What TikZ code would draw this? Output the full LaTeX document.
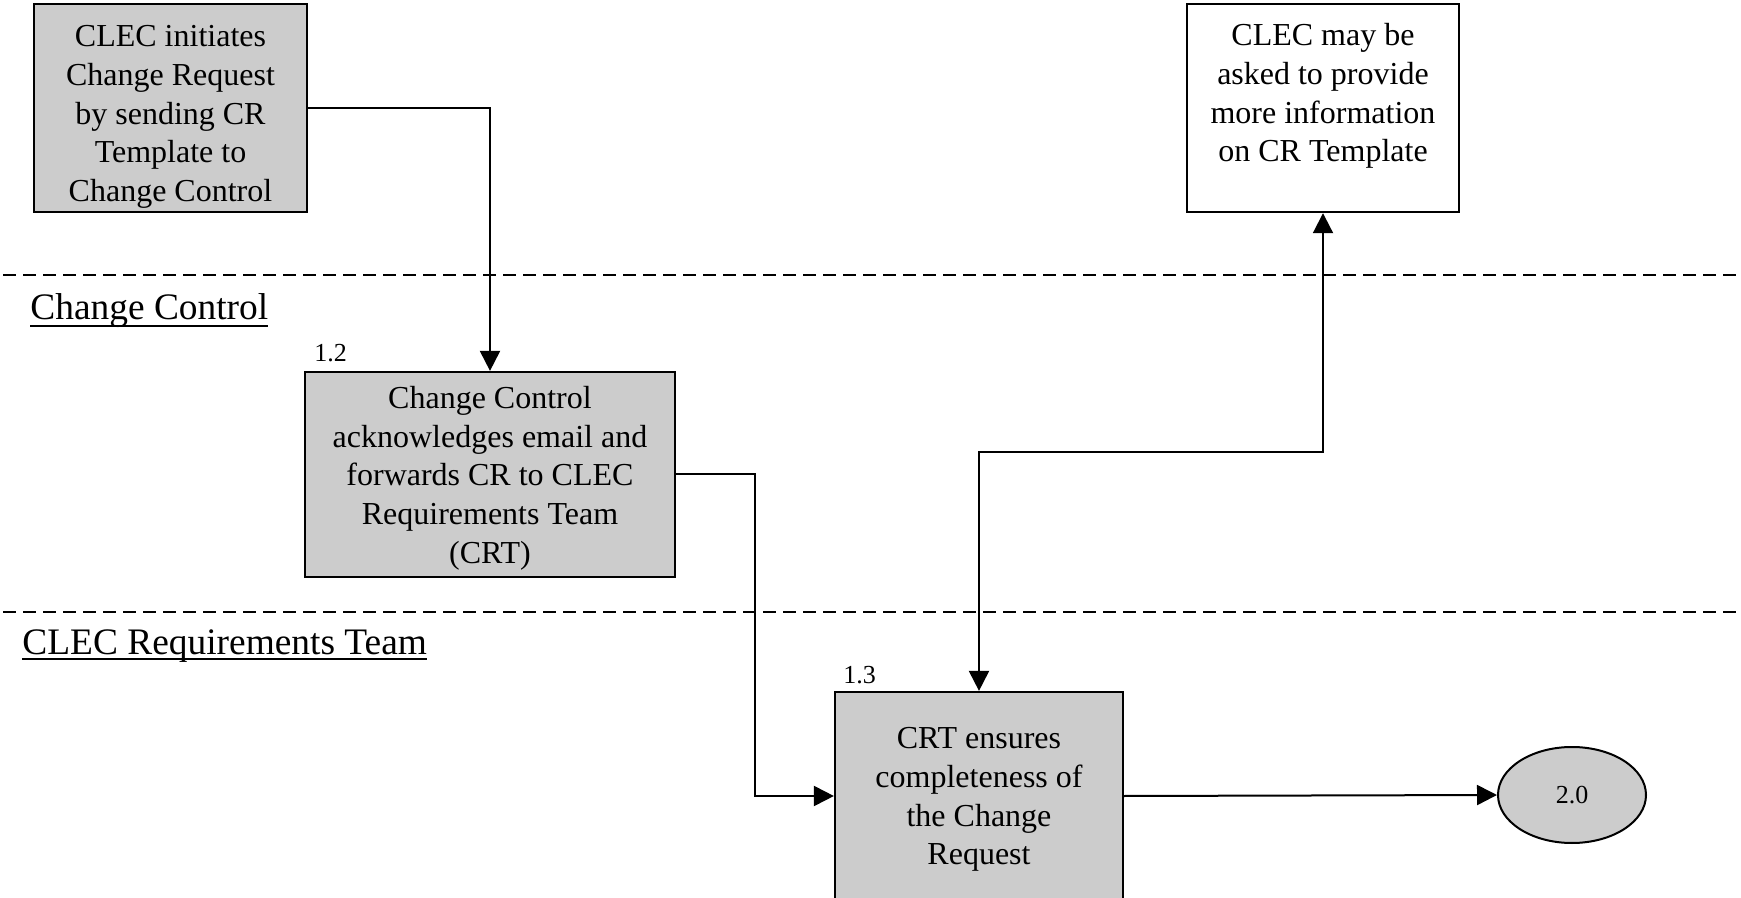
\documentclass[tikz,border=0pt]{standalone}
\usepackage{fontspec}
\setmainfont{Liberation Serif}
\usetikzlibrary{arrows.meta,shapes.geometric}
\definecolor{boxgray}{RGB}{204,204,204}
\newcommand{\myul}[2]{\setbox0\hbox{#2}\rlap{\rule[#1]{\wd0}{1pt}}\box0}
\newcommand{\topgap}[1]{\rule{0pt}{#1}}
\tikzset{
  box/.style={draw=black, line width=1.1pt, fill=boxgray, align=center, inner sep=0pt,
              font=\fontsize{16}{19.35}\selectfont},
  whitebox/.style={box, fill=white},
  conn/.style={line width=1pt, -{Triangle[length=10pt,width=10pt]}},
  dconn/.style={line width=1pt, {Triangle[length=10pt,width=10pt]}-{Triangle[length=10pt,width=10pt]}},
  lane/.style={line width=1pt, dash pattern=on 6.5pt off 3.5pt},
  lanelabel/.style={anchor=base west, inner sep=0pt, font=\fontsize{18.7}{22}\selectfont},
  numlbl/.style={anchor=base west, inner sep=0pt, font=\fontsize{13}{15}\selectfont},
  endnode/.style={draw=black, line width=1pt, fill=boxgray, ellipse, inner sep=0pt,
                  minimum width=74pt, minimum height=48pt, font=\fontsize{13}{15}\selectfont}
}
\begin{document}
\begin{tikzpicture}[x=0.5pt, y=-0.5pt]
\useasboundingbox (0,0) rectangle (1741,898);

% swimlane separators
\draw[lane] (3,275) -- (1741,275);
\draw[lane] (3,612) -- (1741,612);
\node[lanelabel] (lcc) at (30,320) {\myul{-3.5pt}{Change Control}};
\node[lanelabel] (lcrt) at (22,654) {\myul{-2.8pt}{CLEC Requirements Team}};

% boxes
\node[box, minimum width=136.5pt, minimum height=104pt] (b1) at (170.5,108)
  {\topgap{19.7pt}CLEC initiates\\Change Request\\by sending CR\\Template to\\Change Control};
\node[whitebox, minimum width=136pt, minimum height=104pt] (b4) at (1323,108)
  {\topgap{20.9pt}CLEC may be\\asked to provide\\more information\\on CR Template\\\strut};
\node[box, minimum width=185pt, minimum height=102.5pt] (b2) at (490,474.5)
  {\topgap{14.9pt}Change Control\\acknowledges email and\\forwards CR to CLEC\\Requirements Team\\(CRT)};
\node[box, minimum width=144pt, minimum height=104pt] (b3) at (979,796)
  {\topgap{14.3pt}CRT ensures\\completeness of\\the Change\\Request};
\node[endnode] (e) at (1572,795) {2.0};

\node[numlbl] (n12) at (314,362) {1.2};
\node[numlbl] (n13) at (843,683) {1.3};

% connectors
\coordinate (k2) at (755,474.5);
\coordinate (k3) at (1323,452);
\draw[conn] (b1.east) -| (b2.north);
\draw[conn] (b2.east) -- (k2) |- (b3.west);
\draw[dconn] (b3.north) |- (k3) -- (b4.south);
\draw[conn] (b3.east) -- (e.west);
\end{tikzpicture}
\end{document}
